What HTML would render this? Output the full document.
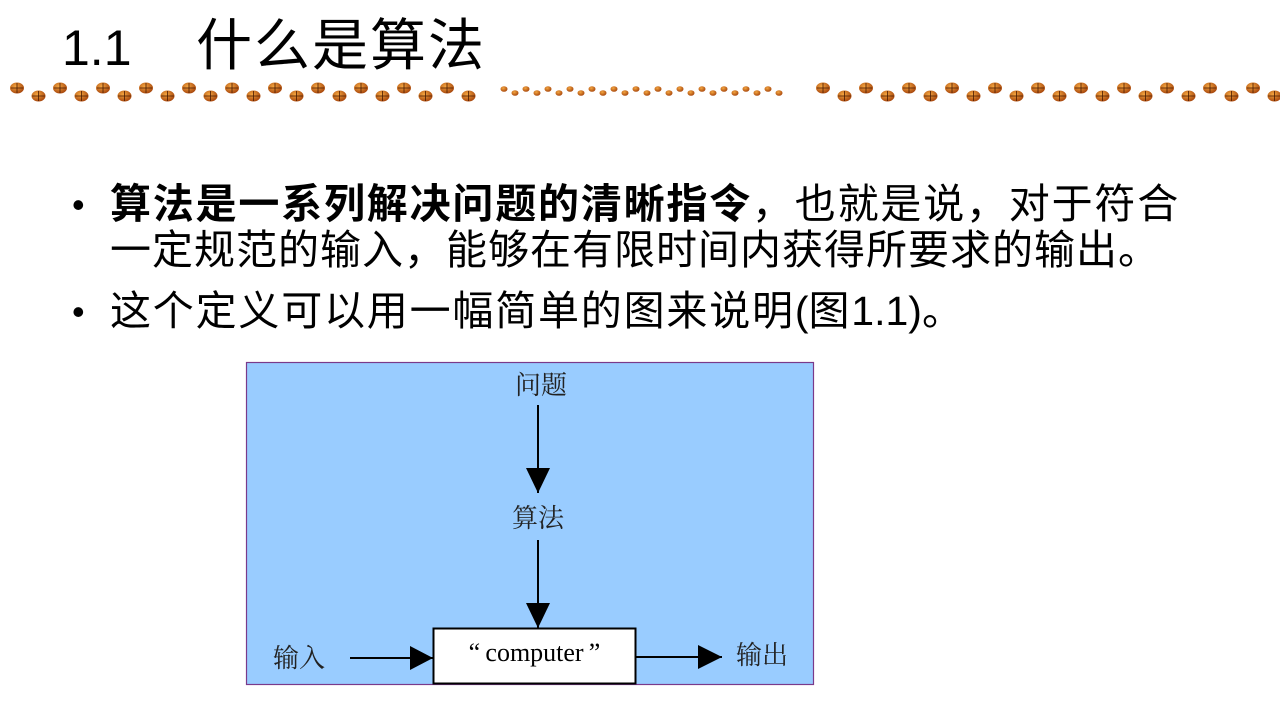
<!DOCTYPE html>
<html><head><meta charset="utf-8"><style>
body{margin:0;width:1280px;height:720px;background:#fff;overflow:hidden;position:relative;font-family:"Liberation Sans","Noto Sans CJK SC",sans-serif;}
.t{position:absolute;white-space:nowrap;color:#000;}
.b{font-size:41px;line-height:46px;letter-spacing:1.8px;}
.d{font-size:26px;line-height:30px;color:#222;font-family:'Liberation Serif','Noto Serif CJK SC',serif;}
</style></head><body>
<div class="t" style="left:62px;top:16px;font-size:50px;line-height:64px;">1.1</div>
<div class="t" style="left:196px;top:14px;font-size:56px;line-height:64px;letter-spacing:2px;">什么是算法</div>
<svg width="1280" height="720" style="position:absolute;left:0;top:0">
<defs>
<radialGradient id="g" cx="40%" cy="35%" r="70%"><stop offset="0" stop-color="#f4a640"/><stop offset="1" stop-color="#a4420a"/></radialGradient>
<pattern id="p" x="10" y="80" width="43" height="24" patternUnits="userSpaceOnUse">
<ellipse cx="7" cy="8" rx="7" ry="5.5" fill="url(#g)"/><path d="M7 3v10M1 8h12" stroke="#4a1a00" stroke-width="0.8"/>
<ellipse cx="28.5" cy="16" rx="7" ry="5.5" fill="url(#g)"/><path d="M28.5 11v10M22 16h13" stroke="#4a1a00" stroke-width="0.8"/>
</pattern>
<pattern id="p2" x="816" y="80" width="43" height="24" patternUnits="userSpaceOnUse">
<ellipse cx="7" cy="8" rx="7" ry="5.5" fill="url(#g)"/><path d="M7 3v10M1 8h12" stroke="#4a1a00" stroke-width="0.8"/>
<ellipse cx="28.5" cy="16" rx="7" ry="5.5" fill="url(#g)"/><path d="M28.5 11v10M22 16h13" stroke="#4a1a00" stroke-width="0.8"/>
</pattern>
<pattern id="q" x="500" y="84" width="22" height="16" patternUnits="userSpaceOnUse">
<ellipse cx="4" cy="5" rx="3.5" ry="2.8" fill="url(#g)"/><ellipse cx="15" cy="9" rx="3.5" ry="2.8" fill="url(#g)"/>
</pattern>
</defs>
<rect x="8" y="80" width="475" height="24" fill="url(#p)"/>
<rect x="500" y="84" width="285" height="16" fill="url(#q)"/>
<rect x="816" y="80" width="464" height="24" fill="url(#p2)"/>
<rect x="246.5" y="362.5" width="567" height="322" fill="#99ccff" stroke="#7a3a8a" stroke-width="1.2"/>
<line x1="538" y1="405" x2="538" y2="493" stroke="#000" stroke-width="2"/>
<path d="M526 468L550 468L538 493z" fill="#000"/>
<line x1="538" y1="540" x2="538" y2="628" stroke="#000" stroke-width="2"/>
<path d="M526 603L550 603L538 628z" fill="#000"/>
<line x1="350" y1="658" x2="433" y2="658" stroke="#000" stroke-width="2"/>
<path d="M410 646L433 658L410 670z" fill="#000"/>
<line x1="636" y1="657" x2="722" y2="657" stroke="#000" stroke-width="2"/>
<path d="M698 645L722 657L698 669z" fill="#000"/>
<rect x="433.5" y="628.5" width="202" height="55" fill="#fff" stroke="#000" stroke-width="2"/>
</svg>
<div class="t" style="left:72px;top:183px;font-size:36px;line-height:44px;">•</div>
<div class="t b" style="left:110px;top:181px;"><b>算法是一系列解决问题的清晰指令</b>，也就是说，对于符合</div>
<div class="t b" style="left:110px;top:227px;letter-spacing:1px;">一定规范的输入，能够在有限时间内获得所要求的输出。</div>
<div class="t" style="left:72px;top:290px;font-size:36px;line-height:44px;">•</div>
<div class="t b" style="left:110px;top:288px;">这个定义可以用一幅简单的图来说明<span style="letter-spacing:0">(</span>图<span style="letter-spacing:0">1.1)</span>。</div>
<div class="t d" style="left:515px;top:371px;">问题</div>
<div class="t d" style="left:512px;top:504px;">算法</div>
<div class="t d" style="left:273px;top:644px;">输入</div>
<div class="t d" style="left:736px;top:641px;">输出</div>
<div class="t" style="left:433px;top:638px;width:203px;text-align:center;font-size:26px;line-height:30px;font-family:'Liberation Serif',serif;">“&thinsp;computer&thinsp;”</div>
</body></html>
